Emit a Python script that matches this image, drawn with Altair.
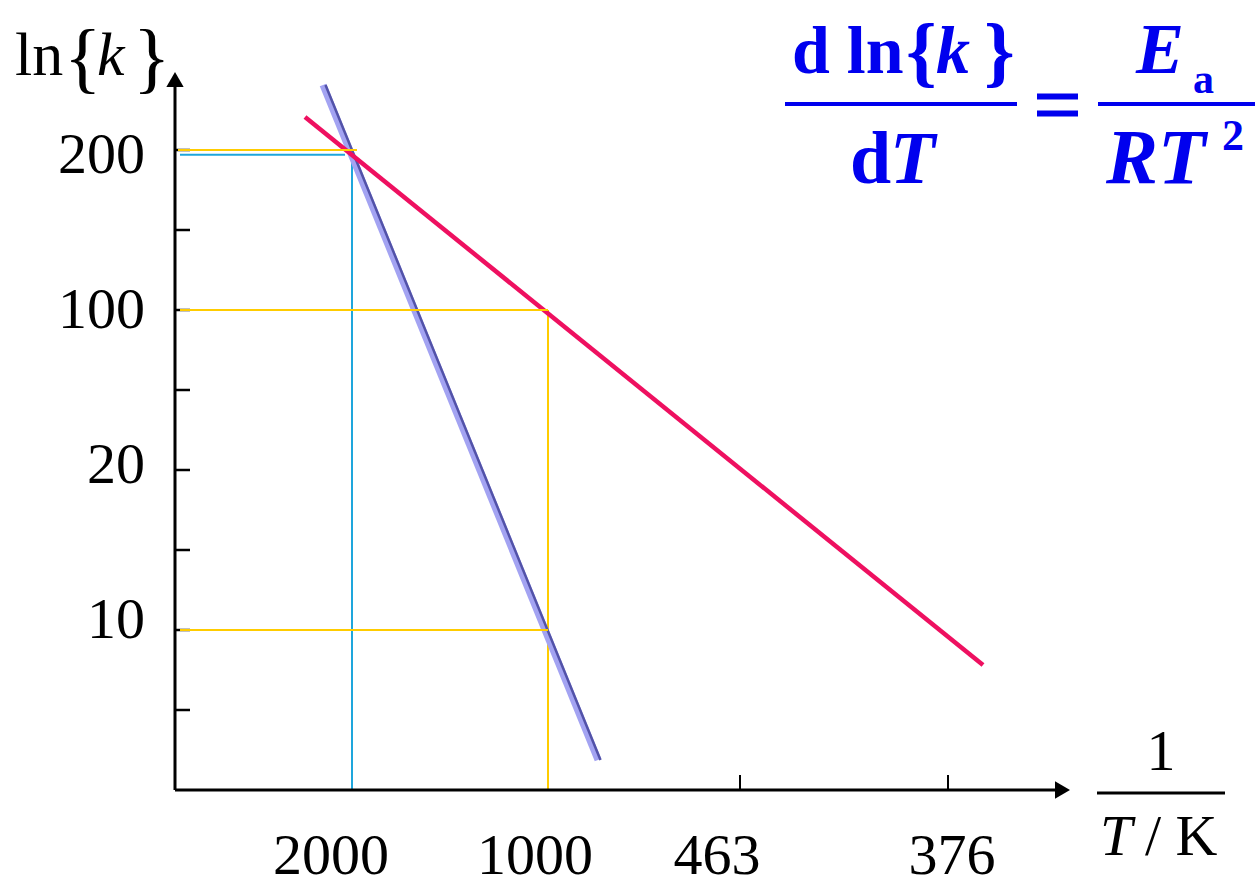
import altair as alt
import pandas as pd

FONT = "Liberation Serif"

# ---- data (chart units: x tick spacing ~, y one label step = 1) ----
x_tick_labels = ["2000", "1000", "463", "376"]
x_tick_pos = [0.885, 1.865, 2.825, 3.865]
x_label_pos = [0.78, 1.80, 2.71, 3.885]

y_tick_labels = ["200", "100", "20", "10"]
y_tick_pos = [4.0, 3.0, 2.0, 1.0]
y_label_pos = [3.856, 2.8875, 1.919, 0.95]
y_minor_pos = [3.5, 2.5, 1.5, 0.5]

red_x = [0.65, 4.04]
red_y = [4.206, 0.781]
blue_x = [0.74, 2.115]
blue_y = [4.406, 0.1875]

# guide segments (x, y, x2, y2)
yellow_x = [0.015, 0.025, 0.025, 1.865]
yellow_y = [4.0, 3.0, 1.0, 3.0]
yellow_x2 = [0.91, 1.865, 1.865, 1.865]
yellow_y2 = [4.0, 3.0, 1.0, 0.0]
cyan_x = [0.025, 0.885]
cyan_y = [3.97, 3.985]
cyan_x2 = [0.85, 0.885]
cyan_y2 = [3.97, 0.0]

X_MAX = 4.45
Y_MAX = 4.46875
xs = alt.Scale(domain=[0, X_MAX], nice=False, zero=False)
ys = alt.Scale(domain=[0, Y_MAX], nice=False, zero=False)

LEFT, TOP = 175, 75


def seg_layer(x, y, x2, y2, color, width):
    df = pd.DataFrame({"x": x, "y": y, "x2": x2, "y2": y2})
    return alt.Chart(df).mark_rule(color=color, strokeWidth=width).encode(
        x=alt.X("x:Q", scale=xs, axis=None),
        y=alt.Y("y:Q", scale=ys, axis=None),
        x2="x2:Q",
        y2="y2:Q",
    )


def line_layer(x, y, color, width, **kw):
    df = pd.DataFrame({"x": x, "y": y, "i": list(range(len(x)))})
    return alt.Chart(df).mark_line(color=color, strokeWidth=width, **kw).encode(
        x=alt.X("x:Q", scale=xs, axis=None),
        y=alt.Y("y:Q", scale=ys, axis=None),
        order="i:O",
    )


one = pd.DataFrame({"a": [0]})


def txt(s, px, py, size, weight="normal", style="normal", color="black", align="left"):
    return alt.Chart(one).mark_text(
        text=s, font=FONT, fontSize=size, fontWeight=weight, fontStyle=style,
        color=color, align=align, baseline="alphabetic",
    ).encode(x=alt.value(px - LEFT), y=alt.value(py - TOP))


def hbar(px1, px2, py, color, width):
    return alt.Chart(one).mark_rule(color=color, strokeWidth=width).encode(
        x=alt.value(px1 - LEFT), x2=alt.value(px2 - LEFT), y=alt.value(py - TOP)
    )


layers = []
# guides
layers.append(seg_layer(yellow_x, yellow_y, yellow_x2, yellow_y2, "#ffcc00", 2))
layers.append(seg_layer(cyan_x, cyan_y, cyan_x2, cyan_y2, "#1ea6dc", 2))
# blue line (light band + dark edge)
layers.append(line_layer(blue_x, blue_y, "#a3a3f2", 7))
layers.append(line_layer(blue_x, blue_y, "#5252a8", 2.5, xOffset=2.5))
# red line
layers.append(line_layer(red_x, red_y, "#ee1060", 4.5))

# axes
layers.append(seg_layer([0], [0], [0], [4.40], "black", 3))
layers.append(seg_layer([0], [0], [4.40], [0], "black", 3))
arrows = pd.DataFrame({"x": [0.0], "y": [4.44]})
layers.append(alt.Chart(arrows).mark_point(shape="triangle-up", filled=True, size=300,
                                           color="black", opacity=1).encode(
    x=alt.X("x:Q", scale=xs, axis=None), y=alt.Y("y:Q", scale=ys, axis=None)))
arrows2 = pd.DataFrame({"x": [4.4375], "y": [0.0]})
layers.append(alt.Chart(arrows2).mark_point(shape="triangle-right", filled=True, size=300,
                                            color="black", opacity=1).encode(
    x=alt.X("x:Q", scale=xs, axis=None), y=alt.Y("y:Q", scale=ys, axis=None)))

# y ticks (major + minor)
all_y_ticks = y_tick_pos + y_minor_pos
layers.append(seg_layer([0] * len(all_y_ticks), all_y_ticks,
                        [0.075] * len(all_y_ticks), all_y_ticks, "black", 2.5))
# restore yellow over the major ones at guide levels
layers.append(seg_layer(yellow_x[:3], yellow_y[:3], yellow_x2[:3], yellow_y2[:3], "#ffcc00", 2))
# x ticks (the two without guide lines)
layers.append(seg_layer(x_tick_pos[2:], [0, 0], x_tick_pos[2:], [0.094, 0.094], "black", 2))

# tick labels
xl = pd.DataFrame({"x": x_label_pos, "t": x_tick_labels})
layers.append(alt.Chart(xl).mark_text(font=FONT, fontSize=58, align="center",
                                      baseline="alphabetic", color="black").encode(
    x=alt.X("x:Q", scale=xs, axis=None), y=alt.value(874 - TOP), text="t:N"))
yl = pd.DataFrame({"y": y_label_pos, "t": y_tick_labels})
layers.append(alt.Chart(yl).mark_text(font=FONT, fontSize=58, align="right",
                                      baseline="alphabetic", color="black").encode(
    x=alt.value(145 - LEFT), y=alt.Y("y:Q", scale=ys, axis=None), text="t:N"))

# y-axis title ln{k}
layers += [
    txt("ln", 15, 75, 62),
    txt("{", 64, 84, 78),
    txt("k", 97, 75, 62, style="italic"),
    txt("}", 133, 84, 78),
]
# x-axis title 1 / (T/K)
layers += [
    txt("1", 1161, 770, 58, align="center"),
    hbar(1097, 1225, 793, "black", 3),
    txt("T", 1100, 855, 58, style="italic"),
    txt("/ K", 1145, 855, 58),
]
# formula
BLUE = "#0000ee"
layers += [
    txt("d ln", 792, 73, 68, weight="bold", color=BLUE),
    txt("{", 906, 77, 78, weight="bold", color=BLUE),
    txt("k", 936, 73, 68, weight="bold", style="italic", color=BLUE),
    txt("}", 984, 77, 78, weight="bold", color=BLUE),
    hbar(785, 1017, 104, BLUE, 4),
    txt("d", 850, 183, 74, weight="bold", color=BLUE),
    txt("T", 890, 183, 74, weight="bold", style="italic", color=BLUE),
    hbar(1037, 1078, 96.5, BLUE, 6),
    hbar(1037, 1078, 113.5, BLUE, 6),
    txt("E", 1136, 73, 72, weight="bold", style="italic", color=BLUE),
    txt("a", 1193, 93, 42, weight="bold", color=BLUE),
    hbar(1098, 1255, 104, BLUE, 4),
    txt("RT", 1106, 183, 78, weight="bold", style="italic", color=BLUE),
    txt("2", 1222, 150, 44, weight="bold", color=BLUE),
]

chart = alt.layer(*layers).properties(
    width=890, height=715,
    padding={"left": 175, "top": 75, "right": 190, "bottom": 95},
    autosize=alt.AutoSizeParams(type="none"),
    background="white",
).configure_view(stroke=None)

chart.save("out.html", embed_options={"renderer": "svg", "actions": False})
